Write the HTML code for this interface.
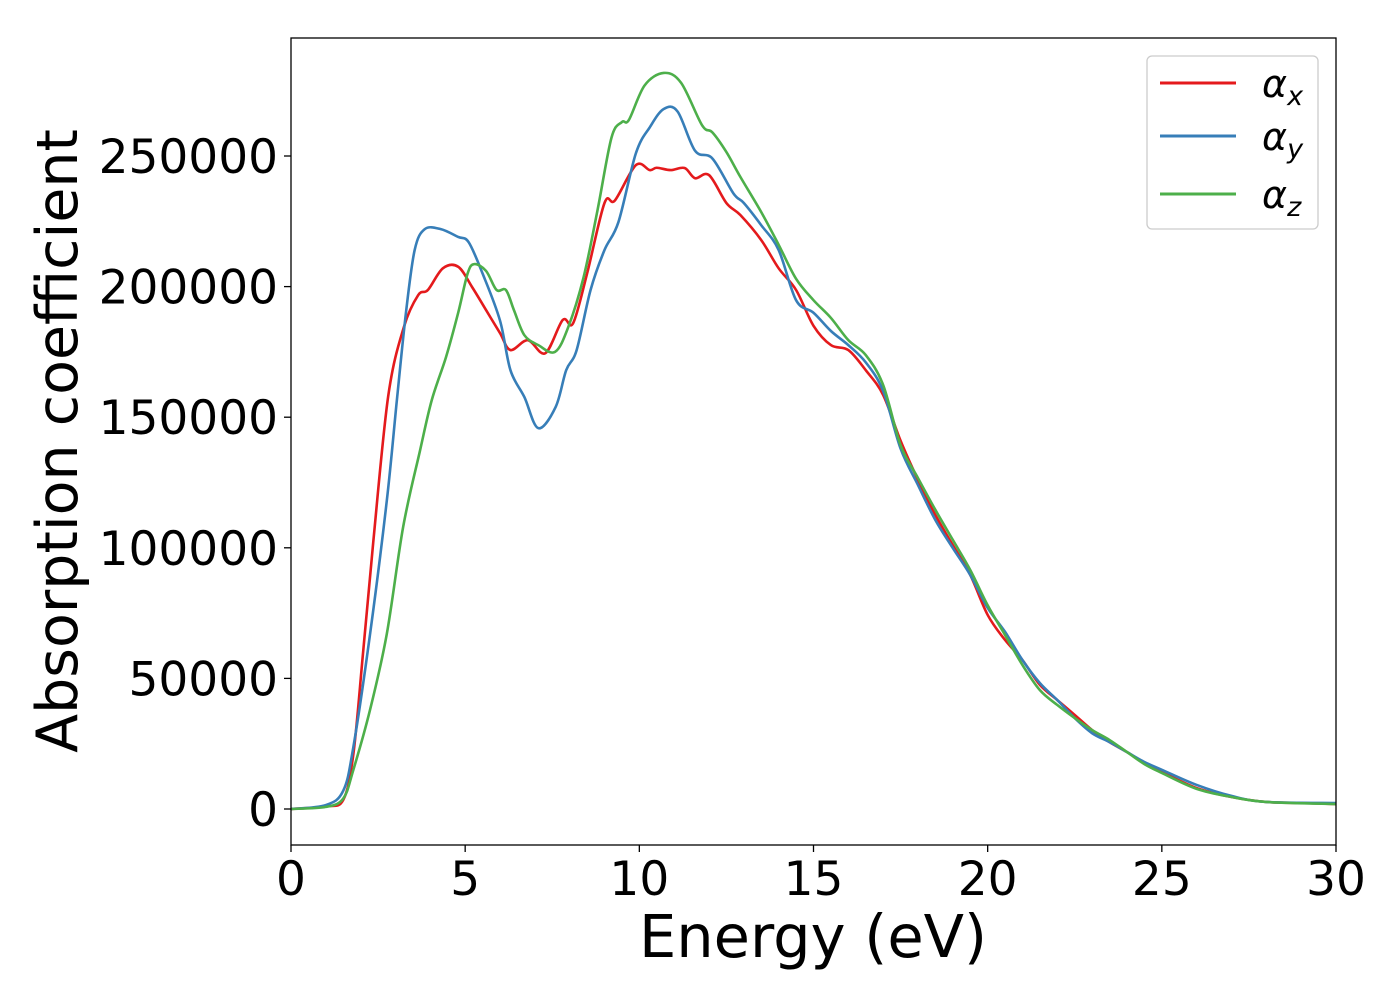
<!DOCTYPE html>
<html><head><meta charset="utf-8"><style>
body{margin:0;background:#fff;}
svg{display:block;font-family:"DejaVu Sans","Liberation Sans",sans-serif;}
</style></head><body>
<svg id="chart" width="1400" height="1000" xmlns="http://www.w3.org/2000/svg">
<rect width="1400" height="1000" fill="#fff"/>
<g id="ticks"></g>
<g id="lines" clip-path="url(#clip)"></g>
<defs><clipPath id="clip"><rect x="291" y="38" width="1045" height="807"/></clipPath></defs>
<rect x="291" y="38" width="1045" height="807" fill="none" stroke="#000" stroke-width="1.3"/>
<text x="813" y="957" font-size="59" text-anchor="middle">Energy (eV)</text>
<text transform="translate(77,441) rotate(-90)" font-size="57" text-anchor="middle">Absorption coefficient</text>
<g>
<rect x="1147" y="56" width="171" height="173" rx="5" fill="#fff" stroke="#ccc" stroke-width="1.3"/>
<line x1="1160" y1="83" x2="1236" y2="83" stroke="#e41a1c" stroke-width="3"/>
<text x="1262" y="97" font-size="38" font-style="italic">α<tspan font-size="27" dy="8">x</tspan></text>
<line x1="1160" y1="136" x2="1236" y2="136" stroke="#377eb8" stroke-width="3"/>
<text x="1262" y="150" font-size="38" font-style="italic">α<tspan font-size="27" dy="8">y</tspan></text>
<line x1="1160" y1="194" x2="1236" y2="194" stroke="#4daf4a" stroke-width="3"/>
<text x="1262" y="208" font-size="38" font-style="italic">α<tspan font-size="27" dy="8">z</tspan></text>
</g>
</svg>
<script>
const xTicks=[0,5,10,15,20,25,30];
const yTicks=[0,50000,100000,150000,200000,250000];
const ex=[0,1,1.5,1.79,2.07,2.36,2.79,3.24,3.65,3.93,4.36,4.8,5.2,5.6,6.0,6.3,6.8,7.3,7.8,8.1,8.5,9.0,9.3,9.9,10.3,10.5,10.9,11.3,11.6,12.0,12.5,12.9,13.5,14,14.5,15,15.5,16,16.5,17,17.5,18,18.5,19,19.5,20,20.5,21,21.5,22,22.5,23,23.5,24,24.5,25,26,27,28,29,30];
const ax=[0,1000,3500,21000,60000,102000,158000,184500,196700,198700,207000,207600,199800,191000,182200,175700,179500,174500,187200,186000,205000,232000,233000,246500,244600,245500,244600,245400,241500,242700,232000,227400,217800,207000,198700,185000,177600,175700,168000,158500,141000,126000,112500,101000,89600,74300,64700,57000,47500,41700,36000,30200,25600,21800,17600,14200,8000,4600,2700,2300,1900];
const ey=[0,1,1.5,1.79,2.27,2.75,3.04,3.3,3.55,3.84,4.3,4.8,5.1,5.5,6.0,6.3,6.7,7.1,7.6,7.9,8.2,8.6,9.0,9.4,9.9,10.3,10.7,11.1,11.6,12.1,12.7,13,13.5,14,14.5,15,15.5,16,16.5,17,17.5,18,18.5,19,19.5,20,20.5,21,21.5,22,22.5,23,23.5,24,24.5,25,26,27,28,30];
const ay=[0,1500,7000,23700,67000,118000,156600,190000,214000,222000,222000,219000,217000,205000,187000,168000,157700,145800,154000,168000,175700,198700,214000,224700,251000,261000,268000,267000,252000,249000,235700,232000,223500,214000,194800,190000,183000,177600,171000,160000,138000,124000,110600,99900,89600,77000,67800,57000,48200,41700,34800,29000,25600,21800,18000,15000,9200,5000,2700,2300];
const ez=[0,1,1.5,1.79,2.27,2.75,3.22,3.7,4.04,4.45,4.8,5.07,5.26,5.6,5.9,6.17,6.4,6.7,7.1,7.58,7.96,8.4,8.8,9.2,9.5,9.7,10.15,10.7,11.2,11.8,12.1,12.5,12.9,13.5,14,14.5,15,15.5,16,16.5,17,17.5,18,18.5,19,19.5,20,20.5,21,21.5,22,22.5,23,23.5,24,24.5,25,26,27,28,30];
const az=[0,800,4000,15000,38000,67000,108000,137000,156500,173000,190000,205000,208600,206000,198700,198700,191000,181400,177600,175000,184500,203600,229300,257000,263000,263800,277000,281800,278000,261800,259000,251500,242000,228500,216000,203000,194800,188000,179500,173800,162300,139300,126700,114500,103000,91500,78000,66600,55100,45500,39800,34800,30200,26400,21800,17200,13800,7700,4600,2700,1900];
const X=v=>291+v*1045/30;
const Y=v=>809-v*653/250000;
const NS="http://www.w3.org/2000/svg";
const tg=document.getElementById('ticks');
xTicks.forEach(t=>{
  const l=document.createElementNS(NS,'line');
  
  
  l.setAttribute('x1',X(t));l.setAttribute('x2',X(t));l.setAttribute('y1',845);l.setAttribute('y2',852);l.setAttribute('stroke','#000');l.setAttribute('stroke-width','1.3');
  tg.appendChild(l);
  const s=document.createElementNS(NS,'text');
  
  
  s.setAttribute('x',X(t));s.setAttribute('y',895);s.setAttribute('font-size','47');s.setAttribute('text-anchor','middle');
  s.textContent=t;tg.appendChild(s);
});
yTicks.forEach(t=>{
  const l=document.createElementNS(NS,'line');
  
  
  l.setAttribute('x1',284);l.setAttribute('x2',291);l.setAttribute('y1',Y(t));l.setAttribute('y2',Y(t));l.setAttribute('stroke','#000');l.setAttribute('stroke-width','1.3');
  tg.appendChild(l);
  const s=document.createElementNS(NS,'text');
  
  
  s.setAttribute('x',278);s.setAttribute('y',Y(t)+17);s.setAttribute('font-size','47');s.setAttribute('text-anchor','end');
  s.textContent=t;tg.appendChild(s);
});
function path(xs,ys){
  const p=xs.map((x,i)=>[X(x),Y(ys[i])]);
  let d='M'+p[0][0]+','+p[0][1];
  for(let i=0;i<p.length-1;i++){
    const p0=p[Math.max(0,i-1)],p1=p[i],p2=p[i+1],p3=p[Math.min(p.length-1,i+2)];
    const c1=[p1[0]+(p2[0]-p0[0])/6,p1[1]+(p2[1]-p0[1])/6];
    const c2=[p2[0]-(p3[0]-p1[0])/6,p2[1]-(p3[1]-p1[1])/6];
    d+=' C'+c1+' '+c2+' '+p2;
  }
  return d;
}
const lg=document.getElementById('lines');
[[ex,ax,'#e41a1c','series-alpha-x'],[ey,ay,'#377eb8','series-alpha-y'],[ez,az,'#4daf4a','series-alpha-z']].forEach(s=>{
  const e=document.createElementNS(NS,'path');
  
  
  e.setAttribute('d',path(s[0],s[1]));e.setAttribute('fill','none');e.setAttribute('stroke',s[2]);e.setAttribute('stroke-width','2.6');
  lg.appendChild(e);
});
</script>
</body></html>
